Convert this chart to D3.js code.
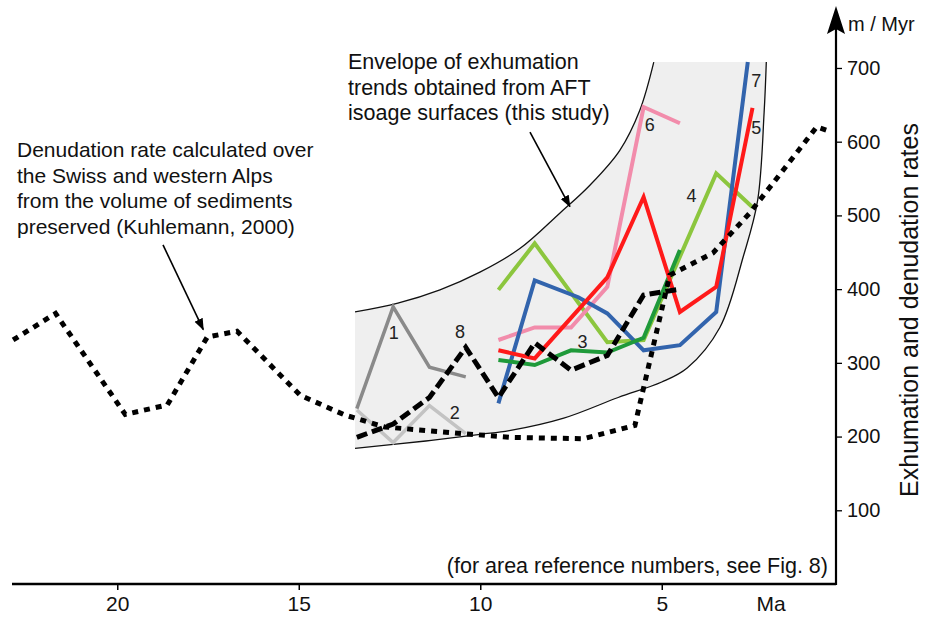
<!DOCTYPE html>
<html>
<head>
<meta charset="utf-8">
<script src="https://cdn.jsdelivr.net/npm/d3@7"></script>
<style>
  body { margin: 0; background: #ffffff; }
</style>
</head>
<body>
<div id="chart"></div>
<script>
// tick labels
const maTicks = [20, 15, 10, 5];
const rateTicks = [100, 200, 300, 400, 500, 600, 700];

// denudation rate from sediment volume (Kuhlemann, 2000) - [Ma, m/Myr]
const kuhlemann = [
  [22.87, 331], [21.7, 367], [19.78, 230], [18.62, 243], [17.52, 335], [16.7, 343],
  [14.96, 256], [13.72, 229], [12.63, 213], [10.48, 204], [9.18, 199], [7.17, 197],
  [5.74, 215], [5.6, 245], [4.78, 419], [3.59, 449], [2.58, 503], [0.73, 620], [0.43, 615],
];

// exhumation trends from AFT isoage surfaces, one array per area - [Ma, m/Myr]
const area1 = [[13.4, 238], [12.4, 376], [11.4, 294], [10.4, 281]];
const area2 = [[13.4, 236], [12.4, 192], [11.4, 242], [10.4, 204]];
const area3 = [[9.5, 304], [8.5, 297], [7.5, 317], [6.5, 314], [5.5, 334], [4.5, 453]];
const area4 = [[9.5, 399], [8.5, 462], [6.5, 328], [5.5, 331], [3.5, 557], [2.5, 511]];
const area5 = [[9.5, 317], [8.5, 306], [6.5, 416], [5.5, 525], [4.5, 369], [3.5, 403], [2.5, 646]];
const area6 = [[9.5, 331], [8.5, 348], [7.5, 348], [6.5, 403], [5.5, 647], [4.5, 625]];
const area7 = [[9.5, 245], [8.5, 412], [7.3, 389], [6.5, 367], [5.5, 317], [4.5, 324], [3.5, 369], [2.63, 708]];
const area8 = [[13.4, 199], [12.4, 217], [11.4, 253], [10.4, 321], [9.5, 253], [8.5, 327], [7.5, 290], [6.5, 310], [5.5, 392], [4.5, 400]];

// envelope of the exhumation trends
const envelopeUpper = [
  [13.45, 369], [12.27, 381], [11.11, 399], [10.01, 423], [8.91, 455], [7.81, 503],
  [6.98, 541], [6.16, 588], [5.61, 642], [5.22, 708],
];
const envelopeLower = [
  [13.45, 184], [11.5, 194], [10.0, 203], [9.2, 208], [7.7, 225], [6.2, 253], [5.0, 274],
  [4.3, 293], [3.4, 348], [2.75, 445], [2.36, 520], [2.18, 640], [2.12, 708],
];

// settings of the svg appearance
const settings = {
  width: 926,
  height: 622,
  parentId: "chart",
  xLeft: 12, // left end of the time axis
  xRight: 836, // position of the rate axis
  yBottom: 584, // position of the time axis
  yTop: 9,
  font: "'Liberation Sans', Arial, sans-serif",
  envelopeFill: "#efefef",
  // drawing order of the area trends, with their colours and label positions [Ma, m/Myr]
  areas: [
    { label: "2", values: area2, color: "#c3c3c3", width: 3.5, at: [10.7, 232] },
    { label: "1", values: area1, color: "#8a8a8a", width: 3.5, at: [12.38, 340] },
    { label: "4", values: area4, color: "#8cc63e", width: 4, at: [4.18, 526] },
    { label: "6", values: area6, color: "#f28cab", width: 4, at: [5.33, 622] },
    { label: "7", values: area7, color: "#3264ad", width: 4, at: [2.4, 682] },
    { label: "3", values: area3, color: "#1f9a3a", width: 4, at: [7.18, 328] },
    { label: "5", values: area5, color: "#ff1a1a", width: 4, at: [2.4, 618] },
  ],
  area8Label: [10.56, 342],
};

function drawChart(settings) {
  const svg = d3
    .select(`#${settings.parentId}`)
    .append("svg")
    .attr("width", settings.width)
    .attr("height", settings.height)
    .style("font-family", settings.font);

  // time runs right to left, Ma
  const x = d3.scaleLinear().domain([22.9, 0.2]).range([settings.xLeft, settings.xRight]);
  const y = d3.scaleLinear().domain([0, 780]).range([settings.yBottom, settings.yTop]);

  const line = d3.line().x((d) => x(d[0])).y((d) => y(d[1]));
  const smooth = d3.line().x((d) => x(d[0])).y((d) => y(d[1])).curve(d3.curveCatmullRom.alpha(0.5));

  // arrow head for the annotations
  svg
    .append("defs")
    .append("marker")
    .attr("id", "arrowhead")
    .attr("viewBox", "0 -5 12 10")
    .attr("refX", 11)
    .attr("markerWidth", 12)
    .attr("markerHeight", 10)
    .attr("markerUnits", "userSpaceOnUse")
    .attr("orient", "auto")
    .append("path")
    .attr("d", "M0,-4.5L12,0L0,4.5Z")
    .style("fill", "#000");

  // envelope - grey fill closed by a vertical left edge and a flat top
  const upperD = smooth(envelopeUpper);
  const lowerD = smooth(envelopeLower.slice().reverse());
  svg
    .append("path")
    .attr("d", upperD + lowerD.replace(/^M/, "L") + "Z")
    .style("fill", settings.envelopeFill)
    .style("stroke", "none");

  svg
    .selectAll(".envelope")
    .data([envelopeUpper, envelopeLower])
    .enter()
    .append("path")
    .attr("class", "envelope")
    .attr("d", smooth)
    .style("fill", "none")
    .style("stroke", "#111")
    .style("stroke-width", 1.3);

  // area trends
  svg
    .selectAll(".area")
    .data(settings.areas)
    .enter()
    .append("path")
    .attr("class", "area")
    .attr("d", (d) => line(d.values))
    .style("fill", "none")
    .style("stroke", (d) => d.color)
    .style("stroke-width", (d) => d.width)
    .style("stroke-linejoin", "miter");

  // area 8 - black dashed
  svg
    .append("path")
    .attr("d", line(area8))
    .style("fill", "none")
    .style("stroke", "#000")
    .style("stroke-width", 5)
    .style("stroke-dasharray", "11,5");

  // Kuhlemann denudation - black dotted
  svg
    .append("path")
    .attr("d", line(kuhlemann))
    .style("fill", "none")
    .style("stroke", "#000")
    .style("stroke-width", 5)
    .style("stroke-dasharray", "6,6");

  // area numbers
  const labels = settings.areas.map((d) => ({ label: d.label, at: d.at }));
  labels.push({ label: "8", at: settings.area8Label });
  svg
    .selectAll(".area-label")
    .data(labels)
    .enter()
    .append("text")
    .attr("class", "area-label")
    .attr("x", (d) => x(d.at[0]))
    .attr("y", (d) => y(d.at[1]))
    .attr("text-anchor", "middle")
    .attr("dominant-baseline", "central")
    .style("font-size", "18px")
    .style("fill", "#222")
    .text((d) => d.label);

  // time axis
  const xAxis = svg
    .append("g")
    .attr("transform", `translate(0,${settings.yBottom})`)
    .call(d3.axisBottom(x).tickValues(maTicks).tickSize(6).tickPadding(6));
  xAxis.select(".domain").remove();
  xAxis.selectAll(".tick line").style("stroke", "#000").style("stroke-width", 1.5);
  xAxis
    .selectAll(".tick text")
    .style("font-size", "21px")
    .style("fill", "#111");
  svg
    .append("line")
    .attr("x1", settings.xLeft)
    .attr("x2", settings.xRight)
    .attr("y1", settings.yBottom)
    .attr("y2", settings.yBottom)
    .style("stroke", "#000")
    .style("stroke-width", 2.5);
  svg
    .append("text")
    .attr("x", 771)
    .attr("y", settings.yBottom + 12)
    .attr("dy", "0.71em")
    .attr("text-anchor", "middle")
    .style("font-size", "21px")
    .style("fill", "#111")
    .text("Ma");

  // rate axis with arrow on top
  const yAxis = svg
    .append("g")
    .attr("transform", `translate(${settings.xRight},0)`)
    .call(d3.axisRight(y).tickValues(rateTicks).tickSize(6).tickPadding(5));
  yAxis.select(".domain").remove();
  yAxis.selectAll(".tick line").style("stroke", "#000").style("stroke-width", 1.3);
  yAxis.selectAll(".tick text").style("font-size", "20px").style("fill", "#111");
  svg
    .append("line")
    .attr("x1", settings.xRight)
    .attr("x2", settings.xRight)
    .attr("y1", settings.yBottom + 1)
    .attr("y2", 28)
    .style("stroke", "#000")
    .style("stroke-width", 2.2);
  svg
    .append("path")
    .attr("d", `M${settings.xRight},6L${settings.xRight + 9},34L${settings.xRight},29L${settings.xRight - 9},34Z`)
    .style("fill", "#000");
  svg
    .append("text")
    .attr("x", 848)
    .attr("y", 31)
    .style("font-size", "20px")
    .style("fill", "#111")
    .text("m / Myr");
  svg
    .append("text")
    .attr("transform", "translate(918,310) rotate(-90)")
    .attr("text-anchor", "middle")
    .style("font-size", "25px")
    .style("fill", "#111")
    .text("Exhumation and denudation rates");

  // annotations
  const notes = [
    { x: 348, y: 69, size: 21.5, lines: ["Envelope of exhumation", "trends obtained from AFT", "isoage surfaces (this study)"] },
    { x: 17, y: 157, size: 21, lines: ["Denudation rate calculated over", "the Swiss and western Alps", "from the volume of sediments", "preserved (Kuhlemann, 2000)"] },
  ];
  notes.forEach((n) => {
    svg
      .append("text")
      .style("font-size", `${n.size}px`)
      .style("fill", "#111")
      .selectAll("tspan")
      .data(n.lines)
      .enter()
      .append("tspan")
      .attr("x", n.x)
      .attr("y", (d, i) => n.y + i * 25.5)
      .text((d) => d);
  });

  const arrows = [
    [[8.63, 613], [7.53, 512]],
    [[18.74, 460], [17.63, 345]],
  ];
  svg
    .selectAll(".note-arrow")
    .data(arrows)
    .enter()
    .append("line")
    .attr("class", "note-arrow")
    .attr("x1", (d) => x(d[0][0]))
    .attr("y1", (d) => y(d[0][1]))
    .attr("x2", (d) => x(d[1][0]))
    .attr("y2", (d) => y(d[1][1]))
    .style("stroke", "#000")
    .style("stroke-width", 1.6)
    .attr("marker-end", "url(#arrowhead)");

  svg
    .append("text")
    .attr("x", 828)
    .attr("y", 573)
    .attr("text-anchor", "end")
    .style("font-size", "21.5px")
    .style("fill", "#111")
    .text("(for area reference numbers, see Fig. 8)");
}

drawChart(settings);
</script>
</body>
</html>
